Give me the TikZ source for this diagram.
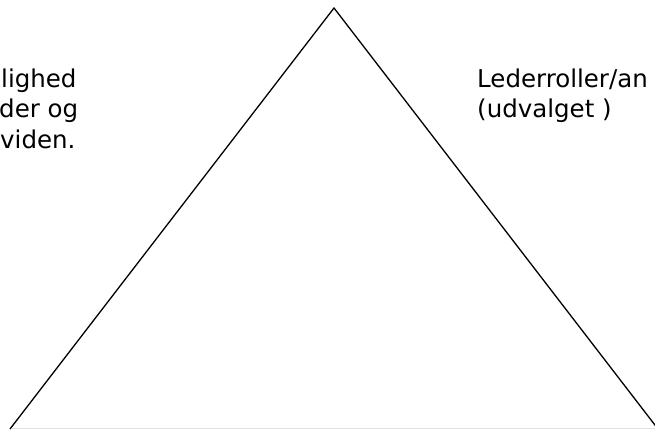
\documentclass[tikz,border=0pt]{standalone}
\usepackage{fontspec}
\setmainfont{DejaVu Sans}
\usepackage{tikz}
\usetikzlibrary{positioning,calc}

\begin{document}
\begin{tikzpicture}[x=1pt,y=-1pt,
  label text/.style={font=\fontsize{24.5}{30.5}\selectfont,inner sep=0pt}]
\useasboundingbox (0,0) rectangle (655,429);
\coordinate (top) at (334,8);
\coordinate (leftfoot) at (10,429);
\coordinate (rightfoot) at (658,429);
\coordinate (baseL) at (12,428);
\coordinate (baseR) at (655,428);
\draw[black!12,line width=0.8pt] (baseL) -- (baseR);
\draw[line width=1.3pt] (leftfoot) -- (top) -- (rightfoot);
% venstre side, teksten er skaaret af
\node[label text,anchor=base west] (l1) at (1,87) {lighed};
\node[label text,anchor=base west] (l2) at (-1,117.5) {der og};
\node[label text,anchor=base west] (l3) at (0,148) {viden.};
% hoejre side
\node[label text,anchor=base west] (r1) at (477,87) {Lederroller/an};
\node[label text,anchor=base west] (r2) at (477,117.5) {(udvalget )};
\end{tikzpicture}
\end{document}
